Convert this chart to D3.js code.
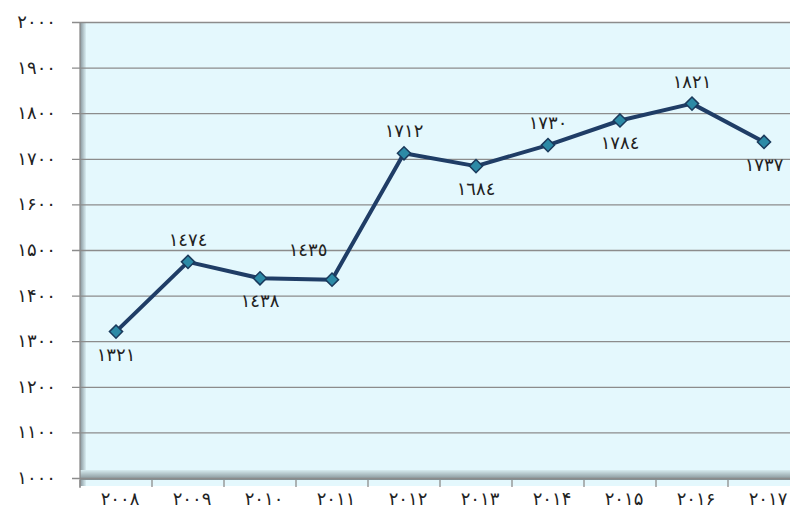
<!DOCTYPE html>
<html>
<head>
<meta charset="utf-8">
<script src="https://cdn.jsdelivr.net/npm/d3@7"></script>
<style>
  body { margin: 0; background: #fff; }
  svg text { font-family: "DejaVu Sans", sans-serif; fill: #222; }
</style>
</head>
<body>
<div class="chart"></div>
<script>
let width = 790;
let height = 513;

// data
let years = ['2008','2009','2010','2011','2012','2013','2014','2015','2016','2017'];
let values = [1321, 1474, 1438, 1435, 1712, 1684, 1730, 1784, 1821, 1737];
let labelPos = ['below','above','below','aboveLeft','above','below','above','below','above','below'];
let yTicks = [1000,1100,1200,1300,1400,1500,1600,1700,1800,1900,2000];

// arabic digit helpers
let persian = s => String(s).replace(/[0-9]/g, d => '۰۱۲۳۴۵۶۷۸۹'[d]);
let arabic = s => String(s).replace(/[0-9]/g, d => '٠١٢٣٤٥٦٧٨٩'[d]);

let padLeft = 80, padTop = 22, floorY = 478, padRight = 800;

let svg = d3.select('.chart').append('svg')
  .attr('width', width).attr('height', height);

let defs = svg.append('defs');
let wallG = defs.append('linearGradient').attr('id','wallL').attr('x1',0).attr('x2',1);
wallG.append('stop').attr('offset',0).attr('stop-color','#86949a');
wallG.append('stop').attr('offset',1).attr('stop-color','#d9eef3');
let floorG = defs.append('linearGradient').attr('id','floor').attr('x1',0).attr('x2',0).attr('y1',0).attr('y2',1);
floorG.append('stop').attr('offset',0).attr('stop-color','#d7ecf0');
floorG.append('stop').attr('offset',0.5).attr('stop-color','#a9babe');
floorG.append('stop').attr('offset',1).attr('stop-color','#7f8d91');

let x = d3.scaleBand().domain(years).range([padLeft, padRight]);
let y = d3.scaleLinear().domain([1000, 2000]).range([floorY, padTop]);

// plot wall
svg.append('rect').attr('x', padLeft).attr('y', padTop)
  .attr('width', width - padLeft).attr('height', floorY - padTop + 8)
  .attr('fill', '#e4f8fd');
svg.append('rect').attr('x', padLeft).attr('y', padTop)
  .attr('width', 6).attr('height', floorY - padTop + 8)
  .attr('fill', 'url(#wallL)');
svg.append('rect').attr('x', padLeft).attr('y', floorY - 8)
  .attr('width', width - padLeft).attr('height', 10)
  .attr('fill', 'url(#floor)');

// gridlines + y axis
let yAxis = d3.axisLeft(y).tickValues(yTicks)
  .tickSize(-(width - padLeft)).tickFormat(d => persian(d));
let gy = svg.append('g').attr('transform', 'translate(' + padLeft + ',0)').call(yAxis);
gy.select('.domain').remove();
gy.selectAll('.tick line').attr('stroke', '#8c8c8c').attr('stroke-width', 1.3).attr('x1', -8);
gy.selectAll('.tick text').attr('x', -24).style('font-size', '18px')
  .style('letter-spacing', '2px').attr('dy', '0.3em');
svg.append('line').attr('x1', padLeft).attr('x2', padLeft).attr('y1', padTop).attr('y2', floorY + 10)
  .attr('stroke', '#8c8c8c').attr('stroke-width', 1.3);

// x axis ticks
let gx = svg.append('g').attr('transform', 'translate(0,' + (floorY + 2) + ')');
gx.selectAll('line').data(years).enter().append('line')
  .attr('x1', d => x(d)).attr('x2', d => x(d))
  .attr('y1', 0).attr('y2', 7)
  .attr('stroke', '#8c8c8c').attr('stroke-width', 1.3);
gx.selectAll('text').data(years).enter().append('text')
  .attr('x', d => x(d) + x.bandwidth() / 2 + 4)
  .attr('y', 25)
  .attr('text-anchor', 'middle')
  .style('font-size', '18px')
  .style('letter-spacing', '2px')
  .text(d => persian(d));

// line
let pts = years.map((d, i) => ({year: d, value: values[i], pos: labelPos[i]}));
let line = d3.line().x(d => x(d.year) + x.bandwidth() / 2).y(d => y(d.value));
svg.append('path').datum(pts).attr('d', line)
  .attr('fill', 'none').attr('stroke', '#1f3d66').attr('stroke-width', 4)
  .attr('stroke-linejoin', 'round');

svg.selectAll('.marker').data(pts).enter().append('path')
  .attr('class', 'marker')
  .attr('d', d3.symbol().type(d3.symbolDiamond2).size(110))
  .attr('transform', d => 'translate(' + (x(d.year) + x.bandwidth() / 2) + ',' + y(d.value) + ')')
  .attr('fill', '#2c8aa6').attr('stroke', '#1a3a5c').attr('stroke-width', 1.5);

// data labels
svg.selectAll('.lbl').data(pts).enter().append('text')
  .attr('class', 'lbl')
  .attr('x', d => x(d.year) + x.bandwidth() / 2 + (d.pos == 'aboveLeft' ? -24 : 0))
  .attr('y', d => {
    let py = y(d.value);
    if (d.pos == 'below') return py + 29;
    if (d.pos == 'aboveLeft') return py - 24;
    return py - 16;
  })
  .attr('text-anchor', 'middle')
  .style('font-size', '18px')
  .text(d => arabic(d.value));
</script>
</body>
</html>
